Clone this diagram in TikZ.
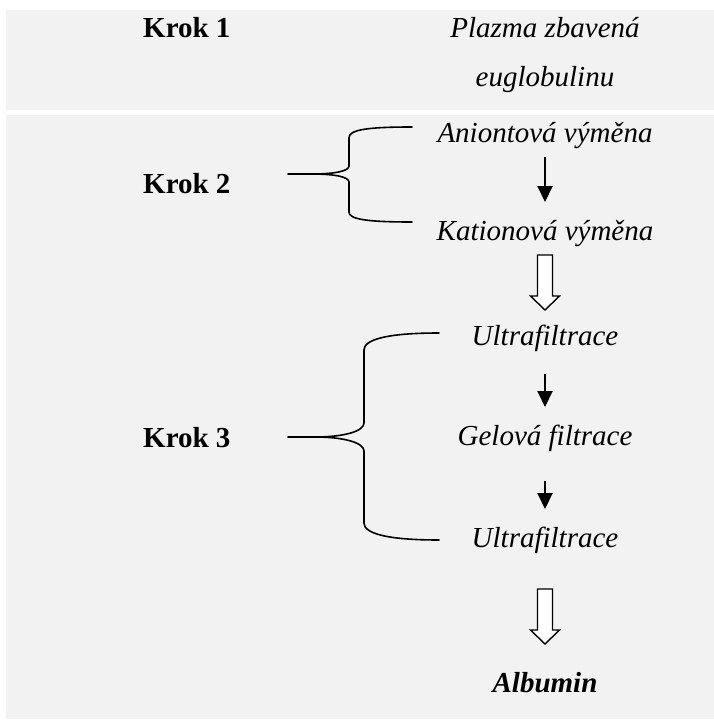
\documentclass[tikz,border=0pt]{standalone}
\usepackage{fontspec}
\setmainfont{Liberation Serif}
\usetikzlibrary{arrows.meta,calc}
\definecolor{panelgray}{RGB}{242,242,242}
\begin{document}
\begin{tikzpicture}[x=1pt,y=-1pt,
  every node/.style={inner sep=0pt, anchor=base},
  stage/.style={anchor=base west, font=\fontsize{29}{34}\selectfont\bfseries},
  item/.style={font=\fontsize{29}{34}\selectfont\itshape},
  final/.style={font=\fontsize{29}{34}\selectfont\bfseries\itshape},
  brace/.style={line width=1.6pt, line cap=round, line join=round},
  flow/.style={line width=2pt, -{Triangle[width=15pt,length=16pt]}},
  hollow/.pic={\draw[line width=1.4pt, fill=white, line join=miter]
    (-7.5,0) -- (7.5,0) -- (7.5,41) -- (14.5,41) -- (0,55)
    -- (-14.5,41) -- (-7.5,41) -- cycle;}
]
\useasboundingbox (0,0) rectangle (714,720);
\fill[white] (0,0) rectangle (714,720);
% two shaded panels
\fill[panelgray] (6,10) rectangle (714,110);
\fill[panelgray] (6,115) rectangle (714,719);

% step labels
\node[stage] (k1) at (143,37) {Krok 1};
\node[stage] (k2) at (143,193) {Krok 2};
\node[stage] (k3) at (143,447) {Krok 3};

% process column
\node[item] (plazma) at (545,37) {Plazma zbavená};
\node[item] (euglob) at (545,86) {euglobulinu};
\node[item] (anion) at (545,142) {Aniontová výměna};
\node[item] (kation) at (545,240) {Kationová výměna};
\node[item] (ultraA) at (545,345) {Ultrafiltrace};
\node[item] (gel) at (545,445) {Gelová filtrace};
\node[item] (ultraB) at (545,547) {Ultrafiltrace};
\node[final] (albumin) at (545,692) {Albumin};

% braces
\draw[brace] (288,174) -- (312,174) .. controls (335,174) and (349,171) .. (349,166)
  -- (349,138) .. controls (349,130) and (365,127) .. (412,127);
\draw[brace] (312,174) .. controls (335,174) and (349,177) .. (349,182)
  -- (349,212) .. controls (349,219) and (365,222) .. (412,222);
\draw[brace] (288,437) -- (315,437) .. controls (345,437) and (364,431) .. (364,423)
  -- (364,350) .. controls (364,340) and (385,333) .. (439,333);
\draw[brace] (315,437) .. controls (345,437) and (364,443) .. (364,451)
  -- (364,523) .. controls (364,533) and (385,540) .. (439,540);

% thin arrows
\draw[flow, shorten <=15pt, shorten >=38pt] (anion.base) -- (kation.base);
\draw[flow, shorten <=29pt, shorten >=38pt] (ultraA.base) -- (gel.base);
\draw[flow, shorten <=36pt, shorten >=38pt] (gel.base) -- (ultraB.base);

% hollow arrows
\pic at ($(kation.base)+(0,15)$) {hollow};
\pic at ($(ultraB.base)+(0,42)$) {hollow};
\end{tikzpicture}
\end{document}
